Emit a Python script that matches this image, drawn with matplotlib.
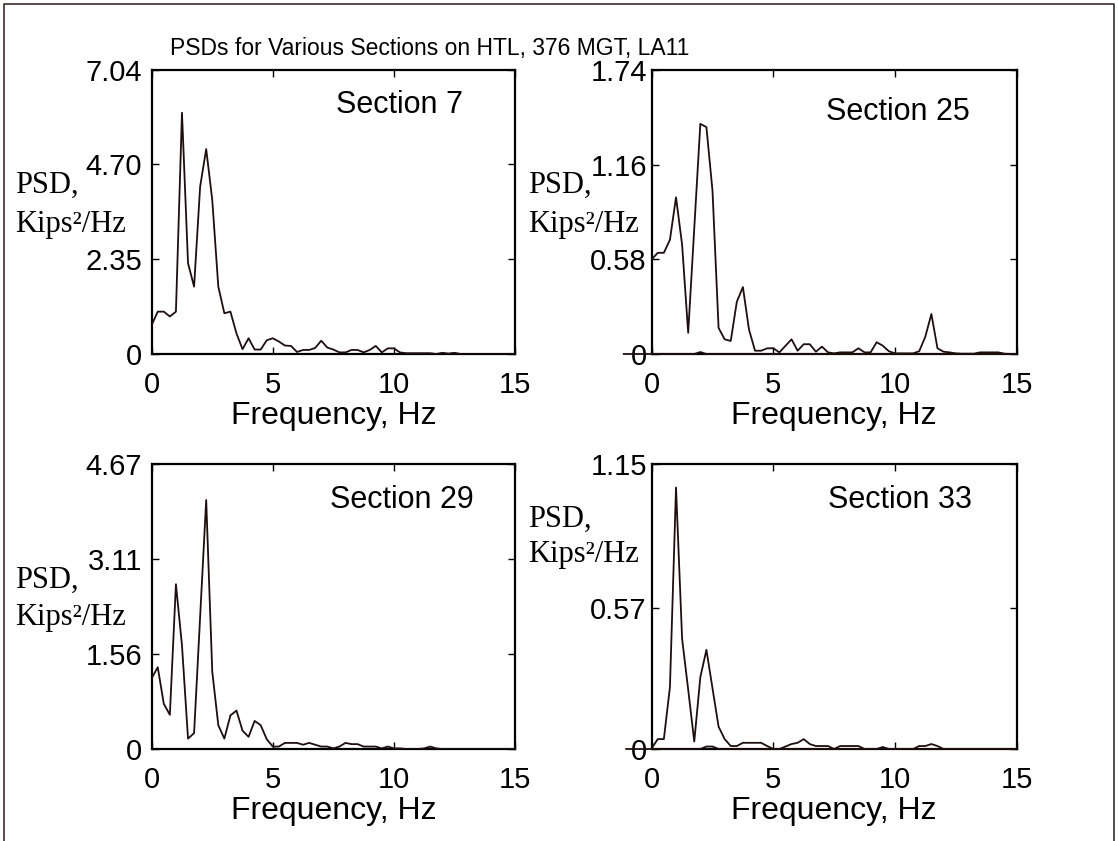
import matplotlib
matplotlib.use("Agg")
import matplotlib.pyplot as plt
from matplotlib.lines import Line2D
from matplotlib import font_manager

# ---------------- data ----------------
freq_hz = [0.0, 0.25, 0.5, 0.75, 1.0, 1.25, 1.5, 1.75, 2.0, 2.25, 2.5, 2.75, 3.0, 3.25, 3.5, 3.75,
           4.0, 4.25, 4.5, 4.75, 5.0, 5.25, 5.5, 5.75, 6.0, 6.25, 6.5, 6.75, 7.0, 7.25, 7.5, 7.75,
           8.0, 8.25, 8.5, 8.75, 9.0, 9.25, 9.5, 9.75, 10.0, 10.25, 10.5, 10.75, 11.0, 11.25, 11.5,
           11.75, 12.0, 12.25, 12.5, 12.75, 13.0, 13.25, 13.5, 13.75, 14.0, 14.25, 14.5, 14.75, 15.0]

psd_sec7 = [0.72, 1.05, 1.05, 0.93, 1.05, 5.98, 2.25, 1.67, 4.15, 5.08, 3.82, 1.67, 1.01, 1.05, 0.51, 0.12,
            0.39, 0.11, 0.11, 0.34, 0.39, 0.31, 0.21, 0.20, 0.05, 0.10, 0.10, 0.15, 0.33, 0.16, 0.11, 0.04,
            0.04, 0.10, 0.10, 0.04, 0.10, 0.20, 0.04, 0.14, 0.14, 0.04, 0.02, 0.02, 0.02, 0.02, 0.02,
            0.0, 0.03, 0.01, 0.03, 0.0, 0.0, 0.0, 0.0, 0.0, 0.0, 0.0, 0.0, 0.0, 0.0]

psd_sec25 = [0.58, 0.62, 0.62, 0.70, 0.96, 0.67, 0.13, 0.77, 1.41, 1.39, 1.00, 0.16, 0.09, 0.08, 0.32, 0.41,
             0.15, 0.02, 0.02, 0.035, 0.035, 0.01, 0.05, 0.09, 0.02, 0.06, 0.06, 0.014, 0.045, 0.01, 0.004, 0.01,
             0.01, 0.01, 0.035, 0.01, 0.01, 0.072, 0.051, 0.017, 0.004, 0.004, 0.004, 0.004, 0.017, 0.106, 0.245,
             0.035, 0.014, 0.01, 0.004, 0.002, 0.002, 0.002, 0.01, 0.01, 0.01, 0.01, 0.002, 0.0, 0.0]

psd_sec29 = [1.16, 1.34, 0.74, 0.56, 2.70, 1.70, 0.17, 0.26, 2.17, 4.08, 1.27, 0.39, 0.17, 0.55, 0.63, 0.30,
             0.20, 0.46, 0.39, 0.16, 0.04, 0.04, 0.10, 0.10, 0.10, 0.07, 0.10, 0.07, 0.04, 0.04, 0.01, 0.04,
             0.10, 0.08, 0.08, 0.04, 0.04, 0.04, 0.01, 0.04, 0.01, 0.01, 0.0, 0.0, 0.0, 0.01, 0.04,
             0.01, 0.0, 0.0, 0.0, 0.0, 0.0, 0.0, 0.0, 0.0, 0.0, 0.0, 0.0, 0.0, 0.0]

psd_sec33 = [0.003, 0.04, 0.04, 0.25, 1.055, 0.445, 0.24, 0.03, 0.29, 0.40, 0.245, 0.09, 0.04, 0.012, 0.012, 0.025,
             0.025, 0.025, 0.025, 0.012, 0.0, 0.0, 0.01, 0.02, 0.025, 0.04, 0.02, 0.012, 0.012, 0.012, 0.0, 0.012,
             0.012, 0.012, 0.012, 0.0, 0.0, 0.0, 0.0, 0.0, 0.0, 0.0, 0.0, 0.0, 0.012, 0.012, 0.02,
             0.012, 0.0, 0.0, 0.0, 0.0, 0.0, 0.0, 0.0, 0.0, 0.0, 0.0, 0.0, 0.0, 0.0]

# faint second trace lying along zero (visible in sections 25 and 33)
base25_freq = [-1.15, 1.75, 2.0, 2.25, 15.0]
base25_psd = [0.0, 0.0, 0.012, 0.0, 0.0]
base33_freq = [-1.05, 2.0, 2.25, 2.5, 2.75, 9.25, 9.5, 9.75, 15.0]
base33_psd = [0.0, 0.0, 0.01, 0.01, 0.0, 0.0, 0.008, 0.0, 0.0]

section_names = ["Section 7", "Section 25", "Section 29", "Section 33"]
ymax_values = [7.04, 1.74, 4.67, 1.15]
ytick_values = [[0, 2.35, 4.70, 7.04], [0, 0.58, 1.16, 1.74], [0, 1.56, 3.11, 4.67], [0, 0.57, 1.15]]
ytick_labels = [["0", "2.35", "4.70", "7.04"], ["0", "0.58", "1.16", "1.74"],
                ["0", "1.56", "3.11", "4.67"], ["0", "0.57", "1.15"]]
xtick_values = [0, 5, 10, 15]
title_text = "PSDs for Various Sections on HTL, 376 MGT, LA11"
xlabel_text = "Frequency, Hz"

# ---------------- figure ----------------
W, H = 1118, 841
fig = plt.figure(figsize=(W / 100, H / 100), dpi=100)
fig.patch.set_facecolor("white")

def fx(px):
    return px / W

def fy(py):
    return 1 - py / H

SANS = "Liberation Sans"
SERIF = "Liberation Serif"
LINE_C = "#1e0e0e"

installed = {f.name for f in font_manager.fontManager.ttflist}
if "Liberation Sans Narrow" in installed:
    title_font, title_size = "Liberation Sans Narrow", 20
else:
    title_font, title_size = SANS, 16.5

# axes boxes in pixel coordinates (left, top, right, bottom)
boxes = [(151.7, 70, 515, 354), (651.7, 70, 1016.5, 354),
         (151.7, 464, 515, 749), (651.7, 464, 1016.5, 749)]
series = [psd_sec7, psd_sec25, psd_sec29, psd_sec33]
label_pads = [7, 3.5, 7, 3.5]
section_pos = [(336, 113), (826, 120), (330, 508), (828, 508)]
ylabel_pos = [(15, 193, 232), (528, 193, 232), (15, 588, 625), (528, 527, 562)]

for i, (l, t, r, b) in enumerate(boxes):
    ax = fig.add_axes([fx(l), fy(b), fx(r) - fx(l), fy(t) - fy(b)])
    ax.plot(freq_hz, series[i], color=LINE_C, lw=1.3, zorder=3)
    if i == 1:
        ax.plot(base25_freq, base25_psd, color=LINE_C, lw=1.3, clip_on=False, zorder=3)
    if i == 3:
        ax.plot(base33_freq, base33_psd, color=LINE_C, lw=1.3, clip_on=False, zorder=3)
    ax.set_xlim(0, 15)
    ax.set_ylim(0, ymax_values[i])
    ax.set_xticks(xtick_values)
    ax.set_xticklabels([str(v) for v in xtick_values], fontfamily=SANS, fontsize=21)
    ax.set_yticks(ytick_values[i])
    ax.set_yticklabels(ytick_labels[i], fontfamily=SANS, fontsize=21)
    ax.tick_params(axis="both", direction="in", length=5, width=1.0, top=True, right=True,
                   colors="black")
    ax.tick_params(axis="y", pad=label_pads[i])
    ax.tick_params(axis="x", pad=12)
    for s in ax.spines.values():
        s.set_linewidth(1.6)
        s.set_color("black")
    ax.set_xlabel(xlabel_text, fontfamily=SANS, fontsize=23, labelpad=2)
    # section annotation
    sx, sy = section_pos[i]
    fig.text(fx(sx), fy(sy), section_names[i], fontfamily=SANS, fontsize=22,
             ha="left", va="baseline")
    # y label (serif, two lines)
    lx, ly1, ly2 = ylabel_pos[i]
    fig.text(fx(lx), fy(ly1), "PSD,", fontfamily=SERIF, fontsize=22, ha="left", va="baseline")
    fig.text(fx(lx), fy(ly2), "Kips\u00b2/Hz", fontfamily=SERIF, fontsize=22, ha="left", va="baseline")

fig.text(fx(430), fy(55), title_text, fontfamily=title_font, fontsize=title_size,
         ha="center", va="baseline")

# outer frame (left, top, right edges)
frame = Line2D([fx(3.5), fx(3.5), fx(1113.5), fx(1113.5)], [fy(845), fy(3.5), fy(3.5), fy(845)],
               transform=fig.transFigure, color="#3a2e2e", lw=1.2)
fig.add_artist(frame)

fig.savefig("out.png", dpi=100, facecolor="white")
